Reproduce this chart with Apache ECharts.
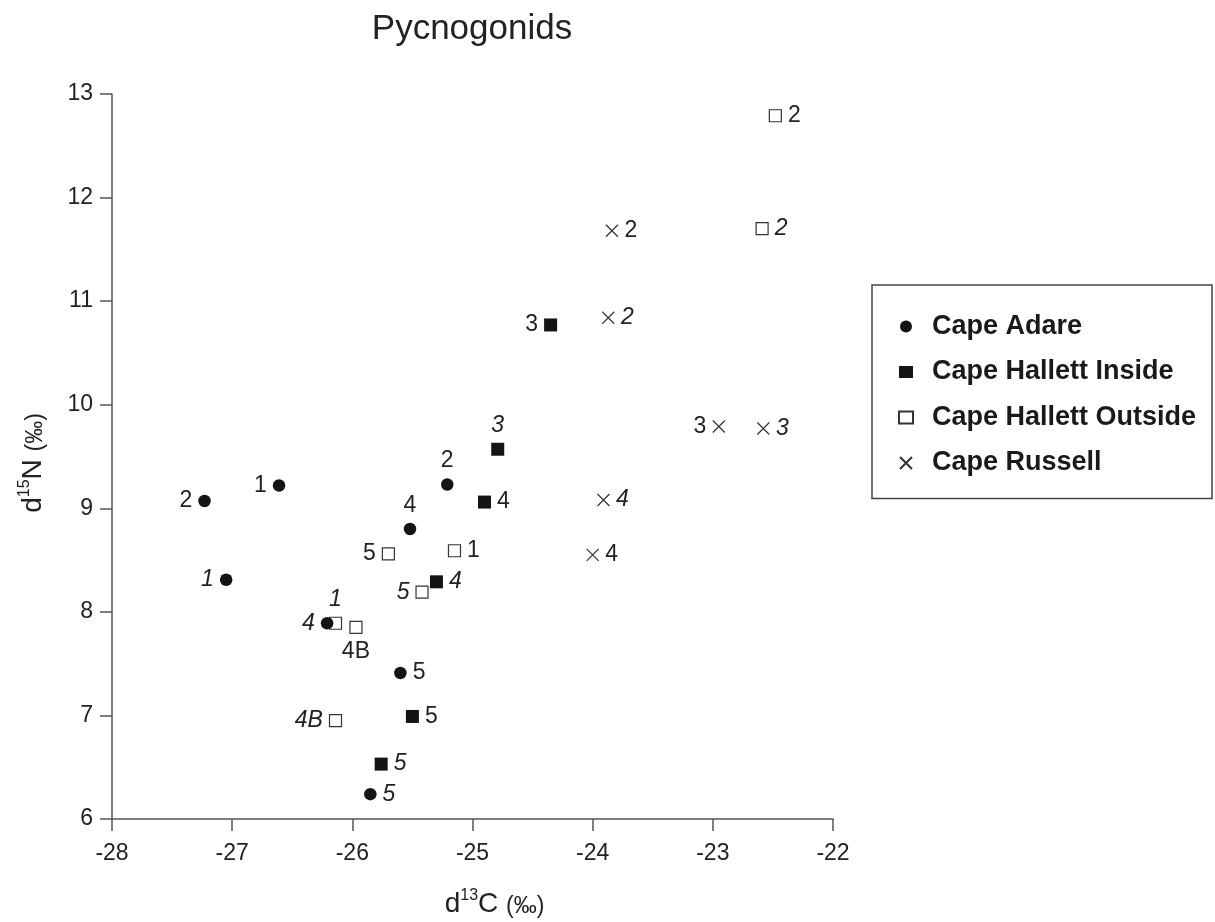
<!DOCTYPE html>
<html><head><meta charset="utf-8">
<script src="https://cdn.jsdelivr.net/npm/echarts@6/dist/echarts.min.js"></script>
<style>html,body{margin:0;padding:0;background:#fff}#c{width:1215px;height:922px}</style>
</head><body><div id="c"></div>
<script>
// ---- data (d13C, d15N) ----
const adareC = [-27.23, -26.61, -27.05, -25.52, -25.21, -26.21, -25.60, -25.85];
const adareN = [9.07, 9.22, 8.31, 8.80, 9.23, 7.89, 7.41, 6.24];
const adareLab = ['2', '1', '1', '4', '2', '4', '5', '5'];
const adareItal = [0, 0, 1, 0, 0, 1, 0, 1];

const insideC = [-25.50, -25.76, -25.30, -24.35, -24.79, -24.90];
const insideN = [6.99, 6.53, 8.29, 10.77, 9.57, 9.06];
const insideLab = ['5', '5', '4', '3', '3', '4'];
const insideItal = [0, 1, 1, 0, 1, 0];

const outsideC = [-25.70, -25.15, -25.42, -26.14, -25.97, -26.14, -22.48, -22.59];
const outsideN = [8.56, 8.59, 8.19, 7.89, 7.85, 6.95, 12.79, 11.70];
const outsideLab = ['5', '1', '5', '1', '4B', '4B', '2', '2'];
const outsideItal = [0, 0, 1, 1, 0, 1, 0, 1];

const russellC = [-23.84, -23.87, -22.95, -22.58, -23.91, -24.00];
const russellN = [11.68, 10.84, 9.79, 9.77, 9.08, 8.55];
const russellLab = ['2', '2', '3', '3', '4', '4'];
const russellItal = [0, 1, 0, 1, 1, 0];

const seriesNames = ['Cape Adare', 'Cape Hallett Inside', 'Cape Hallett Outside', 'Cape Russell'];

// ---- label placement (style) ----
const adarePos = ['left', 'left', 'left', 'top', 'top', 'left', 'right', 'right'];
const insidePos = ['right', 'right', 'right', 'left', 'top', 'right'];
const outsidePos = ['left', 'right', 'left', 'top', 'bottom', 'left', 'right', 'right'];
const russellPos = ['right', 'right', 'left', 'right', 'right', 'right'];

const FONT = '"Liberation Sans", Arial, Helvetica, sans-serif';
const crossPath = 'path://M0,0L10,10M10,0L0,10';

function build(xs, ys, labs, ital, pos) {
  return xs.map((x, i) => ({
    value: [x, ys[i]],
    label: { formatter: labs[i], position: pos[i], fontStyle: ital[i] ? 'italic' : 'normal' }
  }));
}
const labelBase = { show: true, fontFamily: FONT, fontSize: 23, color: '#222', distance: 6 };

const chart = echarts.init(document.getElementById('c'));
const richName = {
  a: { fontFamily: FONT, fontSize: 28, color: '#222', lineHeight: 30, verticalAlign: 'bottom' },
  s: { fontFamily: FONT, fontSize: 16, color: '#222', lineHeight: 30, verticalAlign: 'top' },
  b: { fontFamily: FONT, fontSize: 23, color: '#222', lineHeight: 30, verticalAlign: 'bottom' }
};
const axisCommon = {
  type: 'value',
  interval: 1,
  axisLine: { show: true, onZero: false, lineStyle: { color: '#555', width: 1.5 } },
  axisTick: { show: true, inside: false, length: 12, lineStyle: { color: '#555', width: 1.5 } },
  splitLine: { show: false },
  axisLabel: { fontFamily: FONT, fontSize: 23, color: '#222' },
  nameLocation: 'middle'
};
const option = {
  animation: false,
  backgroundColor: '#fff',
  title: {
    text: 'Pycnogonids', left: 467, top: 7, textAlign: 'center',
    textStyle: { fontFamily: FONT, fontSize: 35, fontWeight: 'normal', color: '#222' }
  },
  grid: { left: 112, right: 382, top: 94, bottom: 103, outerBoundsMode: 'none' },
  xAxis: Object.assign({}, axisCommon, {
    min: -28, max: -22,
    axisLabel: Object.assign({}, axisCommon.axisLabel, { margin: 23 }),
    name: '{a|d}{s|13}{a|C }{b|(‰)}', nameGap: 69,
    nameTextStyle: { fontFamily: FONT, color: '#222', padding: [0, 0, 0, 44], rich: richName }
  }),
  yAxis: Object.assign({}, axisCommon, {
    min: 6, max: 13,
    axisLabel: Object.assign({}, axisCommon.axisLabel, { margin: 19 }),
    name: '{a|d}{s|15}{a|N }{b|(‰)}', nameGap: 65, nameRotate: 90,
    nameTextStyle: { fontFamily: FONT, color: '#222', padding: [0, 13, 0, 0], rich: richName }
  }),
  legend: {
    orient: 'vertical', left: 872, top: 285,
    padding: [28, 16, 22, 26], itemGap: 18.5, itemWidth: 14, itemHeight: 12,
    borderColor: '#444', borderWidth: 1.5,
    textStyle: { fontFamily: FONT, fontSize: 27, fontWeight: 'bold', color: '#1a1a1a', lineHeight: 26, padding: [0, 0, 0, 14] },
    data: seriesNames
  },
  series: [
    {
      name: seriesNames[2], type: 'scatter', symbol: 'rect', symbolSize: 12, z: 2,
      itemStyle: { color: '#fff', borderColor: '#333', borderWidth: 1.2, opacity: 1 },
      label: labelBase, emphasis: { disabled: true },
      data: build(outsideC, outsideN, outsideLab, outsideItal, outsidePos)
    },
    {
      name: seriesNames[1], type: 'scatter', symbol: 'rect', symbolSize: 13, z: 3,
      itemStyle: { color: '#141414', opacity: 1 },
      label: labelBase, emphasis: { disabled: true },
      data: build(insideC, insideN, insideLab, insideItal, insidePos)
    },
    {
      name: seriesNames[3], type: 'scatter', symbol: crossPath, symbolSize: 12, z: 3,
      itemStyle: { color: 'transparent', borderColor: '#333', borderWidth: 1.2, opacity: 1 },
      label: labelBase, emphasis: { disabled: true },
      data: build(russellC, russellN, russellLab, russellItal, russellPos)
    },
    {
      name: seriesNames[0], type: 'scatter', symbol: 'circle', symbolSize: 12.5, z: 4,
      itemStyle: { color: '#141414', opacity: 1 },
      label: labelBase, emphasis: { disabled: true },
      data: build(adareC, adareN, adareLab, adareItal, adarePos)
    }
  ]
};
chart.setOption(option);
</script></body></html>
